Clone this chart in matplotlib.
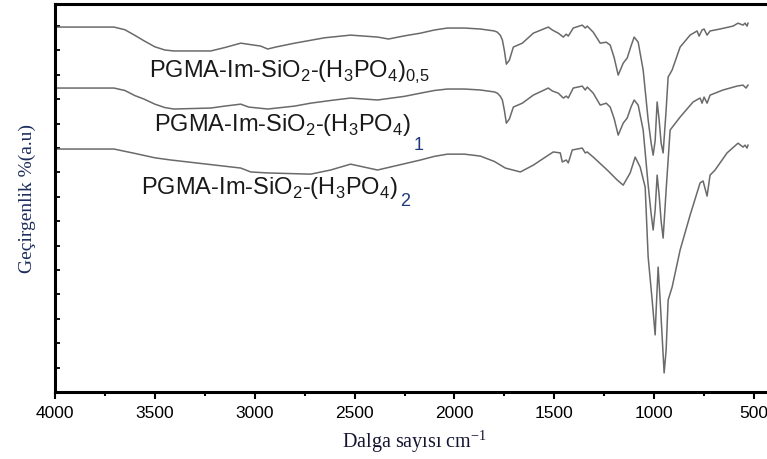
import matplotlib
matplotlib.use("Agg")
import matplotlib.pyplot as plt
from matplotlib.ticker import MultipleLocator

# FTIR spectra (wavenumber cm-1, transmittance in tick units)
wn1 = [4000, 3705, 3650, 3600, 3555, 3500, 3450, 3405, 3220, 3150, 3070, 2970, 2935, 2895,
       2800, 2650, 2520, 2385, 2330, 2250, 2170, 2100, 2035, 1950, 1870, 1800, 1785, 1770,
       1760, 1750, 1740, 1725, 1705, 1660, 1605, 1530, 1510, 1480, 1455, 1440, 1430, 1405,
       1360, 1345, 1335, 1305, 1270, 1240, 1220, 1200, 1180, 1155, 1135, 1115, 1100, 1080,
       1055, 1030, 1015, 1005, 995, 985, 975, 965, 955, 940, 930, 910, 870, 820, 785, 775,
       760, 750, 735, 720, 670, 605, 580, 555, 545, 535, 530]
t1 = [14.96, 14.96, 14.85, 14.62, 14.40, 14.15, 14.02, 13.98, 13.98, 14.12, 14.30, 14.18,
      14.06, 14.14, 14.30, 14.52, 14.63, 14.55, 14.47, 14.60, 14.71, 14.84, 14.92, 14.92,
      14.88, 14.80, 14.75, 14.62, 14.43, 14.00, 13.44, 13.60, 14.14, 14.30, 14.71, 14.96,
      14.84, 14.71, 14.55, 14.67, 14.59, 14.92, 15.04, 14.92, 15.00, 14.75, 14.30, 14.34,
      14.22, 13.70, 12.99, 13.48, 13.69, 14.20, 14.55, 14.34, 13.20, 11.15, 10.20, 9.71,
      10.30, 11.89, 11.15, 10.20, 9.80, 11.56, 12.91, 13.20, 14.14, 14.63, 14.80, 14.59,
      14.84, 14.88, 14.63, 14.80, 14.88, 15.00, 15.12, 15.04, 15.12, 15.00, 15.12]

wn2 = [4000, 3705, 3650, 3600, 3555, 3500, 3450, 3405, 3220, 3150, 3070, 3030, 2935, 2800,
       2720, 2620, 2520, 2385, 2250, 2170, 2100, 2035, 1950, 1870, 1800, 1785, 1770, 1760,
       1750, 1740, 1725, 1705, 1660, 1605, 1530, 1510, 1480, 1455, 1440, 1430, 1405, 1360,
       1345, 1335, 1305, 1270, 1240, 1220, 1200, 1180, 1155, 1135, 1115, 1100, 1080, 1055,
       1030, 1015, 1005, 995, 985, 975, 965, 955, 940, 920, 870, 805, 770, 760, 750, 735,
       720, 655, 585, 555, 540, 530]
t2 = [12.46, 12.46, 12.36, 12.15, 12.01, 11.80, 11.66, 11.60, 11.64, 11.72, 11.80, 11.68,
      11.60, 11.72, 11.84, 11.95, 12.05, 11.97, 12.12, 12.25, 12.36, 12.42, 12.42, 12.38,
      12.30, 12.25, 12.12, 11.97, 11.55, 11.02, 11.19, 11.68, 11.84, 12.17, 12.46, 12.34,
      12.25, 12.05, 12.13, 12.05, 12.46, 12.54, 12.38, 12.50, 12.25, 11.76, 11.84, 11.68,
      11.20, 10.53, 11.02, 11.23, 11.70, 11.97, 11.76, 10.74, 8.48, 7.30, 6.64, 7.46, 8.89,
      8.07, 7.00, 6.31, 8.28, 10.74, 11.27, 11.89, 12.05, 11.84, 12.09, 11.84, 12.17,
      12.38, 12.54, 12.58, 12.46, 12.58]

wn3 = [4000, 3705, 3600, 3500, 3420, 3250, 3070, 3020, 2935, 2720, 2620, 2520, 2385, 2280,
       2170, 2100, 2035, 1950, 1870, 1800, 1745, 1670, 1605, 1550, 1505, 1470, 1460, 1440,
       1430, 1410, 1360, 1345, 1335, 1305, 1235, 1185, 1155, 1120, 1095, 1070, 1045, 1030,
       1010, 995, 990, 980, 970, 950, 940, 930, 910, 870, 820, 770, 755, 735, 720, 695,
       635, 580, 555, 545, 535, 530]
t3 = [9.96, 9.96, 9.78, 9.60, 9.51, 9.35, 9.18, 9.02, 8.98, 8.93, 9.10, 9.34, 9.10, 9.30,
      9.51, 9.66, 9.75, 9.75, 9.67, 9.45, 9.18, 9.02, 9.30, 9.60, 9.84, 9.80, 9.43, 9.51,
      9.39, 9.92, 10.00, 9.80, 9.84, 9.63, 9.10, 8.69, 8.48, 8.98, 9.63, 9.22, 8.40, 5.53,
      3.77, 2.34, 3.36, 5.12, 3.77, 0.78, 1.72, 3.77, 4.30, 5.82, 7.25, 8.57, 8.65, 8.03,
      8.89, 9.10, 9.80, 10.20, 10.04, 10.12, 10.00, 10.12]

base = r"PGMA-Im-SiO$_\mathregular{2}$-(H$_\mathregular{3}$PO$_\mathregular{4}$)"
labels = [base + r"$_\mathregular{0{,}5}$", base, base]
extra = [None, "1", "2"]
xticks = [4000, 3500, 3000, 2500, 2000, 1500, 1000, 500]

fig = plt.figure(figsize=(7.67, 4.59), dpi=100)
ax = fig.add_axes([0.0717, 0.146, 0.9374, 0.845])

for wn, t in [(wn1, t1), (wn2, t2), (wn3, t3)]:
    ax.plot(wn, t, color="#6a6a6a", lw=1.1, solid_joinstyle="round")

ax.set_xlim(4000, 400)
ax.set_ylim(0, 15.9)
ax.set_xticks(xticks)
ax.xaxis.set_minor_locator(MultipleLocator(250))
ax.set_yticks(range(0, 16))
ax.set_yticklabels([])

for s in ax.spines.values():
    s.set_linewidth(2.2)
ax.tick_params(axis="x", which="major", direction="out", length=5, width=1.5, pad=5,
               labelsize=12.5)
ax.tick_params(axis="x", which="minor", direction="out", length=3, width=1.5)
ax.tick_params(axis="y", direction="in", length=3.5, width=1.3)
for lab in ax.get_xticklabels():
    lab.set_family("Liberation Sans")

ax.set_xlabel(r"Dalga sayısı cm$^{\mathregular{-1}}$", family="Liberation Serif",
              fontsize=14.5, color="#141430", labelpad=5)
ax.set_ylabel("Geçirgenlik %(a.u)", family="Liberation Serif", fontsize=14,
              color="#1c2c5c", labelpad=10)

# label positions (wavenumber, y) in axes data units
pos = [(3530, 12.9), (3505, 10.7), (3570, 8.1)]
for (x, y), txt, ex in zip(pos, labels, extra):
    t = ax.text(x, y, txt, family="Liberation Sans", fontsize=17, color="#1a1a1a",
                va="baseline", ha="left")
    if ex:
        ax.annotate(ex, xy=(1, 0), xycoords=t, xytext=(2, 1 if ex == "1" else 6),
                    textcoords="offset points", va="top", ha="left",
                    family="Liberation Sans", fontsize=13, color="#1f3a7a")

fig.savefig("out.png", dpi=100)
